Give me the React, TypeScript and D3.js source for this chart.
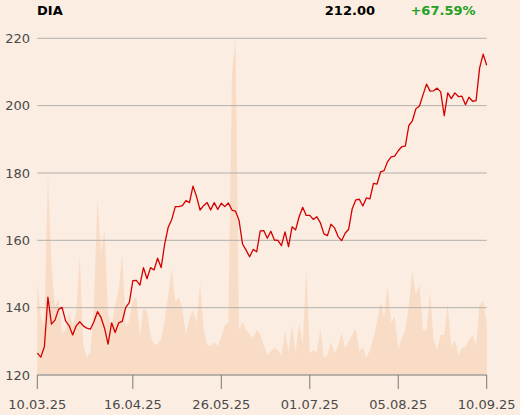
import React from "react";
import * as d3 from "d3";

const symbol = "DIA";
const lastPrice = "212.00";
const changeText = "+67.59%";

const prices: number[] = [
  126.5, 125.3, 128.4, 143.1, 135.1, 136.3, 139.5, 140.1, 136.1, 134.6,
  131.9, 134.6, 135.8, 134.6, 133.9, 133.6, 135.8, 138.8, 137.1, 133.9,
  129.2, 135.5, 132.6, 135.5, 135.9, 140.1, 141.5, 148.0, 148.1, 146.7,
  151.9, 148.6, 151.9, 151.2, 154.7, 151.9, 158.9, 163.9, 166.2, 170.0,
  170.0, 170.3, 171.8, 171.2, 176.1, 173.0, 169.0, 170.3, 171.2, 169.0,
  171.2, 169.2, 171.0, 170.0, 171.1, 169.0, 168.7, 166.0, 158.9, 157.1,
  155.1, 157.3, 156.6, 162.8, 162.9, 160.6, 162.7, 160.1, 160.0, 158.4,
  162.5, 158.1, 164.0, 163.1, 167.0, 169.8, 167.4, 167.4, 166.2, 167.0,
  165.2, 161.9, 161.4, 164.8, 163.7, 161.1, 159.9, 162.1, 163.3, 169.4,
  172.0, 172.2, 170.2, 172.6, 172.3, 176.9, 176.7, 180.3, 180.7, 183.4,
  184.8, 185.0, 186.6, 187.8, 188.0, 194.1, 195.5, 199.1, 199.9, 203.2,
  206.4, 204.3, 204.4, 205.2, 204.1, 197.0, 203.8, 202.1, 203.8, 202.7,
  202.8, 200.3, 202.5, 201.3, 201.5, 211.2, 215.3, 212.0,
];

// volume in millions of shares
const volumes: number[] = [
  9.2, 5.7, 5.0, 20.2, 11.0, 6.8, 7.6, 4.2, 4.5, 6.2,
  4.9, 6.2, 11.8, 3.0, 1.8, 2.3, 7.0, 17.7, 12.2, 14.5,
  6.2, 4.8, 7.0, 8.5, 12.2, 4.8, 5.5, 7.5, 7.8, 3.8,
  6.7, 6.4, 4.0, 3.0, 3.1, 3.6, 5.5, 8.0, 10.6, 7.3,
  7.8, 6.7, 4.0, 5.7, 6.5, 5.2, 9.2, 4.7, 3.0, 2.9,
  3.3, 2.9, 3.8, 5.0, 5.2, 30.0, 33.7, 4.5, 5.3, 4.5,
  4.1, 3.7, 4.5, 4.1, 3.0, 2.0, 2.4, 2.7, 2.5, 1.9,
  4.4, 2.3, 5.0, 2.2, 5.2, 3.0, 10.7, 2.2, 2.5, 2.3,
  4.6, 1.7, 2.0, 3.3, 2.2, 2.8, 4.2, 2.6, 3.3, 4.0,
  4.6, 2.3, 2.8, 1.7, 2.5, 3.7, 5.3, 7.3, 5.7, 9.0,
  5.2, 5.9, 2.6, 3.7, 4.5, 7.0, 10.4, 8.0, 9.0, 4.5,
  4.5, 8.3, 3.5, 2.5, 4.0, 4.0, 7.1, 2.8, 3.5, 2.0,
  2.7, 2.8, 3.5, 4.0, 3.0, 7.0, 7.4, 5.2,
];

const yTicks: number[] = [120, 140, 160, 180, 200, 220];
const xTickIndex: number[] = [0, 27, 52, 77, 102, 127];
const xTickLabels: string[] = ["10.03.25", "16.04.25", "26.05.25", "01.07.25", "05.08.25", "10.09.25"];

const W = 520;
const H = 415;
const M = { left: 37.3, right: 486.7, top: 38.3, bottom: 375 };

const FONT = "'DejaVu Sans', sans-serif";

export default function App() {
  const n = prices.length;
  const x = d3.scaleLinear().domain([0, n - 1]).range([M.left, M.right]);
  const y = d3.scaleLinear().domain([120, 220]).range([M.bottom, M.top]);
  const yv = d3.scaleLinear().domain([0, d3.max(volumes) as number]).range([M.bottom, M.top]);

  const area = d3
    .area<number>()
    .x((_, i) => x(i))
    .y0(M.bottom)
    .y1((d) => yv(d));
  const line = d3
    .line<number>()
    .x((_, i) => x(i))
    .y((d) => y(d));

  return (
    <svg
      width={W}
      height={H}
      style={{ position: "absolute", left: 0, top: 0, display: "block" }}
      fontFamily={FONT}
    >
      <rect x={0} y={0} width={W} height={H} fill="#fbede1" />
      <path d={area(volumes) || ""} fill="#f8dcc6" />
      {yTicks.map((t) => (
        <g key={t}>
          <line x1={M.left} x2={M.right} y1={y(t)} y2={y(t)} stroke="#b4b0ac" strokeWidth={1} />
          <text x={30} y={y(t)} dy="0.36em" textAnchor="end" fontSize={13} fill="#4a4a4a">
            {t}
          </text>
        </g>
      ))}
      <line x1={M.left} x2={M.right} y1={M.bottom} y2={M.bottom} stroke="#9a9794" strokeWidth={1} />
      {xTickIndex.map((idx, k) => (
        <g key={idx}>
          <line x1={x(idx)} x2={x(idx)} y1={M.bottom} y2={M.bottom + 14} stroke="#7a7876" strokeWidth={1} />
          <text x={x(idx)} y={409} textAnchor="middle" fontSize={13} fill="#4a4a4a">
            {xTickLabels[k]}
          </text>
        </g>
      ))}
      <path d={line(prices) || ""} fill="none" stroke="#d40000" strokeWidth={1.3} strokeLinejoin="round" />
      <text x={37} y={15} fontSize={13} fontWeight="bold" fill="#000">
        {symbol}
      </text>
      <text x={375} y={15} fontSize={13} fontWeight="bold" fill="#000" textAnchor="end">
        {lastPrice}
      </text>
      <text x={475.5} y={15} fontSize={13} fontWeight="bold" fill="#22a022" textAnchor="end">
        {changeText}
      </text>
    </svg>
  );
}
